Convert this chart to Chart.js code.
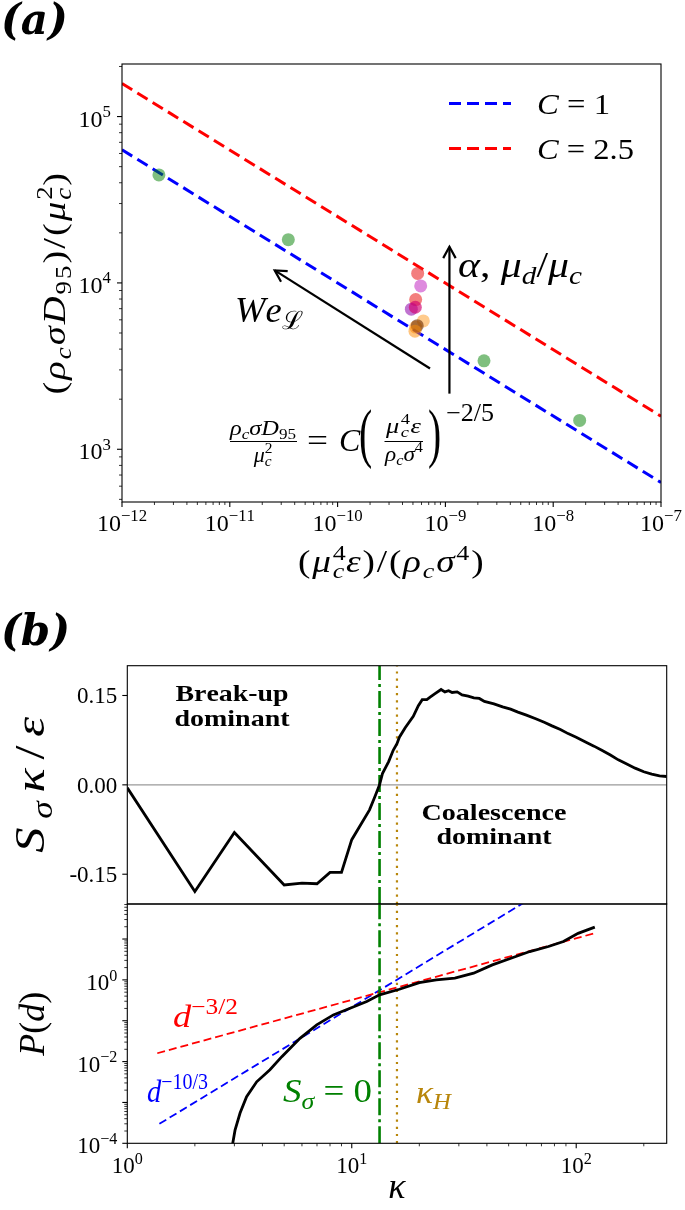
<!DOCTYPE html>
<html lang="en">
<head>
    <meta charset="UTF-8">
    <title>Drop size scaling and break-up / coalescence balance</title>
    <script src="https://cdn.jsdelivr.net/npm/chart.js"></script>
    <style>
        body { margin: 0; background: #fff; }
        #page { position: relative; width: 685px; height: 1210px; overflow: hidden; }
        .panel { position: absolute; left: 0; width: 685px; }
    </style>
</head>
<body>
<div id="page">
    <div class="panel" style="top:0;height:600px"><canvas id="chart-a"></canvas></div>
    <div class="panel" style="top:600px;height:306px"><canvas id="chart-b1"></canvas></div>
    <div class="panel" style="top:902px;height:308px"><canvas id="chart-b2"></canvas></div>
</div>

<script>
    // ---- panel (a): rescaled D95 against rescaled dissipation ----
    const aRangeX = [1e-12, 1e-7];
    const aRangeY = [482, 2.07e5];
    const fitX = [1e-12, 1e-7];
    const fitC1 = [6.31e4, 631];      // C = 1
    const fitC25 = [1.58e5, 1580];    // C = 2.5
    const greenX = [2.2e-12, 3.49e-11, 2.28e-9, 1.76e-8];
    const greenY = [4.46e4, 1.82e4, 3.4e3, 1.49e3];
    const clusterX = [5.53e-10, 5.90e-10, 5.30e-10, 4.83e-10, 5.26e-10, 6.24e-10, 5.30e-10, 5.48e-10, 5.22e-10];
    const clusterY = [1.14e4, 9.59e3, 7.94e3, 6.95e3, 7.14e3, 5.91e3, 5.43e3, 5.53e3, 5.13e3];
    const clusterColors = ['rgba(235,40,40,0.6)', 'rgba(200,60,200,0.6)', 'rgba(235,40,40,0.6)', 'rgba(140,0,170,0.55)',
        'rgba(210,0,110,0.65)', 'rgba(255,140,0,0.45)', 'rgba(255,140,0,0.5)', 'rgba(110,45,0,0.6)', 'rgba(255,140,0,0.5)'];
    const arrowWe = [[7.2e-10, 3.06e3], [2.61e-11, 1.19e4]];
    const arrowAlpha = [[1.09e-9, 2.16e3], [1.09e-9, 1.65e4]];

    // ---- panel (b): source term and drop size distribution against kappa ----
    const kRange = [1, 253];
    const sRange = [-0.2, 0.2];
    const pRange = [1e-4, 72];
    const kappaS = [1, 2, 3, 5, 6, 7, 8, 9, 10, 12, 12.7, 13.3, 13.7, 14.6, 15.3, 15.9, 16.3, 17.3, 18.8, 19.8,
        20.6, 21.6, 22.5, 23.5, 25, 26, 27, 28, 29.5, 31, 33, 35, 37, 39, 43, 47, 51, 55, 60, 66, 72, 78, 85, 92,
        100, 110, 120, 130, 142, 154, 168, 183, 200, 217, 235, 253];
    const sourceS = [-0.005, -0.179, -0.080, -0.168, -0.165, -0.166, -0.147, -0.147, -0.092, -0.042, -0.019, 0.0,
        0.019, 0.039, 0.058, 0.069, 0.080, 0.096, 0.115, 0.133, 0.143, 0.143, 0.148, 0.153, 0.160, 0.156, 0.158,
        0.155, 0.156, 0.151, 0.149, 0.146, 0.145, 0.140, 0.136, 0.131, 0.127, 0.122, 0.117, 0.111, 0.105, 0.099,
        0.093, 0.086, 0.080, 0.072, 0.065, 0.058, 0.050, 0.042, 0.035, 0.028, 0.022, 0.018, 0.015, 0.014];
    const kappaP = [2.9, 2.95, 3.02, 3.18, 3.4, 3.77, 4.32, 4.88, 5.88, 6.98, 8.28, 9.83, 11.66, 13.3, 16.3, 20,
        23.8, 28.8, 34.9, 42.3, 51.2, 62.1, 75.2, 87.7, 102, 121];
    const probP = [6e-5, 1e-4, 2.1e-4, 5.5e-4, 1.38e-3, 3.2e-3, 6.3e-3, 1.32e-2, 3.7e-2, 7.9e-2, 0.139, 0.202,
        0.295, 0.43, 0.59, 0.86, 1.0, 1.1, 1.46, 2.33, 3.39, 4.94, 6.55, 8.7, 13.8, 19.5];
    const fitRedK = [1.36, 121];      // d^-3/2
    const fitRedP = [0.016, 13.9];
    const fitBlueK = [1.39, 60];      // d^-10/3
    const fitBlueP = [3.0e-4, 84.6];
    const kappaZero = 13.3;           // S_sigma = 0
    const kappaH = 15.9;              // Hinze scale

    const pts = (xs, ys) => xs.map((x, i) => ({ x: x, y: ys[i] }));

    // ---- text helpers (sub/superscripts drawn on the canvas) ----
    const SERIF = '"Liberation Serif", "DejaVu Serif", serif';

    function segInfo(seg, size) {
        let k = seg[1] || 'n', shift = 0, s = size;
        if (k[0] === '^') { shift = -0.4 * size; s = 0.7 * size; k = k.slice(1); }
        else if (k[0] === '_') { shift = 0.2 * size; s = 0.7 * size; k = k.slice(1); }
        const st = k === 'i' ? 'italic ' : k === 'b' ? 'bold ' : '';
        return { t: seg[0], f: st + s + 'px ' + SERIF, shift: shift, stack: seg[2] === 'stack' };
    }

    // lays out segments char by char, gap = extra space after each char
    function layoutRich(ctx, segs, size, gap, cb) {
        let end = 0, prevStart = 0, chars = 0;
        for (const seg of segs) {
            const info = segInfo(seg, size);
            ctx.font = info.f;
            if (info.stack) {
                if (cb) cb(info, prevStart, info.t);
                end = Math.max(end, prevStart + ctx.measureText(info.t).width);
                continue;
            }
            prevStart = end;
            let pos = end;
            for (const c of info.t) {
                if (cb) cb(info, pos, c);
                pos += ctx.measureText(c).width + gap;
                chars++;
            }
            end = pos;
        }
        return { w: end - gap, n: chars };
    }

    function drawRich(ctx, segs, x, y, size, opt) {
        const o = Object.assign({ align: 'left', color: '#000' }, opt);
        const base = layoutRich(ctx, segs, size, 0);
        let sx = 1, gap = 0;
        if (o.fitW) {
            sx = Math.min(1.2, Math.max(0.85, o.fitW / base.w));
            gap = base.n > 1 ? (o.fitW / sx - base.w) / (base.n - 1) : 0;
        }
        const W = o.fitW || base.w;
        const x0 = o.align === 'center' ? x - W / 2 : o.align === 'right' ? x - W : x;
        ctx.save();
        ctx.translate(x0, y);
        ctx.scale(sx, 1);
        ctx.fillStyle = o.color;
        ctx.textAlign = 'left';
        ctx.textBaseline = 'alphabetic';
        layoutRich(ctx, segs, size, gap, (info, px, c) => { ctx.font = info.f; ctx.fillText(c, px, info.shift); });
        ctx.restore();
    }

    function drawRichV(ctx, segs, bx, cy, size, opt) {
        ctx.save();
        ctx.translate(bx, cy);
        ctx.rotate(-Math.PI / 2);
        drawRich(ctx, segs, 0, 0, size, Object.assign({ align: 'center' }, opt));
        ctx.restore();
    }

    const pow10 = e => [['10', 'n'], [(e < 0 ? '\u2212' : '') + Math.abs(e), '^n']];

    function frame(ctx, a) {
        ctx.strokeStyle = '#000';
        ctx.lineWidth = 1.1;
        ctx.setLineDash([]);
        ctx.strokeRect(a.left, a.top, a.right - a.left, a.bottom - a.top);
    }

    // outward ticks on a log axis, major at powers of ten
    function logTicks(ctx, scale, fixed, horizontal) {
        const lo = scale.min, hi = scale.max;
        ctx.strokeStyle = '#000';
        ctx.setLineDash([]);
        for (let e = Math.floor(Math.log10(lo)); e <= Math.ceil(Math.log10(hi)); e++) {
            for (let k = 1; k <= 9; k++) {
                const v = k * Math.pow(10, e);
                if (v < lo * 0.9999 || v > hi * 1.0001) continue;
                const p = scale.getPixelForValue(v), len = k === 1 ? 5 : 3;
                ctx.lineWidth = k === 1 ? 1.1 : 0.8;
                ctx.beginPath();
                if (horizontal) { ctx.moveTo(p, fixed); ctx.lineTo(p, fixed + len); }
                else { ctx.moveTo(fixed, p); ctx.lineTo(fixed - len, p); }
                ctx.stroke();
            }
        }
    }

    function arrow(ctx, x0, y0, x1, y1) {
        ctx.beginPath(); ctx.moveTo(x0, y0); ctx.lineTo(x1, y1); ctx.stroke();
        const ang = Math.atan2(y1 - y0, x1 - x0), L = 13, h = 0.5;
        ctx.beginPath();
        ctx.moveTo(x1 - L * Math.cos(ang - h), y1 - L * Math.sin(ang - h));
        ctx.lineTo(x1, y1);
        ctx.lineTo(x1 - L * Math.cos(ang + h), y1 - L * Math.sin(ang + h));
        ctx.stroke();
    }

    function panelLabel(ctx, text, y) {
        ctx.font = 'italic bold 42px "DejaVu Serif", serif';
        ctx.fillStyle = '#000';
        ctx.textAlign = 'left';
        ctx.textBaseline = 'alphabetic';
        ctx.fillText(text, 1, y);
    }

    const baseOptions = (padding, xScale, yScale) => ({
        responsive: true,
        maintainAspectRatio: false,
        animation: false,
        devicePixelRatio: 1,
        events: [],
        layout: { padding: padding },
        scales: { x: xScale, y: yScale },
        plugins: { legend: { display: false }, tooltip: { enabled: false } }
    });

    // ---------------- panel (a) ----------------
    const decoA = {
        id: 'decoA',
        afterDraw(chart) {
            const ctx = chart.ctx, a = chart.chartArea, xs = chart.scales.x, ys = chart.scales.y;
            ctx.save();
            frame(ctx, a);
            logTicks(ctx, xs, a.bottom, true);
            logTicks(ctx, ys, a.left, false);
            for (let e = -12; e <= -7; e++) {
                drawRich(ctx, pow10(e), xs.getPixelForValue(Math.pow(10, e)), a.bottom + 29, 24, { align: 'center' });
            }
            for (let e = 3; e <= 5; e++) {
                drawRich(ctx, pow10(e), a.left - 11, ys.getPixelForValue(Math.pow(10, e)) + 10, 24, { align: 'right' });
            }
            drawRich(ctx, [['(', 'n'], ['\u03bc', 'i'], ['c', '_i'], ['4', '^n', 'stack'], ['\u03b5', 'i'], [')/(', 'n'],
                ['\u03c1', 'i'], ['c', '_i'], ['\u03c3', 'i'], ['4', '^n'], [')', 'n']],
                (a.left + a.right) / 2, 572, 31, { align: 'center', fitW: 187 });
            drawRichV(ctx, [['(', 'n'], ['\u03c1', 'i'], ['c', '_i'], ['\u03c3', 'i'], ['D', 'i'], ['95', '_n'], [')/(', 'n'],
                ['\u03bc', 'i'], ['c', '_i'], ['2', '^n', 'stack'], [')', 'n']],
                65, (a.top + a.bottom) / 2, 32, { fitW: 223 });

            // legend
            ctx.lineWidth = 3;
            ctx.setLineDash([12, 6]);
            ctx.strokeStyle = '#0000ff';
            ctx.beginPath(); ctx.moveTo(449, 103.5); ctx.lineTo(511, 103.5); ctx.stroke();
            ctx.strokeStyle = '#ff0000';
            ctx.beginPath(); ctx.moveTo(449, 148.5); ctx.lineTo(511, 148.5); ctx.stroke();
            ctx.setLineDash([]);
            drawRich(ctx, [['C', 'i'], [' = 1', 'n']], 537, 114, 30, { fitW: 73 });
            drawRich(ctx, [['C', 'i'], [' = 2.5', 'n']], 537, 159, 30, { fitW: 97 });

            // arrows
            ctx.strokeStyle = '#000';
            ctx.lineWidth = 2.2;
            ctx.lineJoin = 'miter';
            for (const ar of [arrowWe, arrowAlpha]) {
                arrow(ctx, xs.getPixelForValue(ar[0][0]), ys.getPixelForValue(ar[0][1]),
                    xs.getPixelForValue(ar[1][0]), ys.getPixelForValue(ar[1][1]));
            }
            drawRich(ctx, [['W', 'i'], ['e', 'i'], ['\u2112', '_n']], 235, 322, 36, { fitW: 68 });
            drawRich(ctx, [['\u03b1', 'i'], [', ', 'n'], ['\u03bc', 'i'], ['d', '_i'], ['/', 'n'], ['\u03bc', 'i'], ['c', '_i']],
                458, 277, 35, { fitW: 124 });

            // scaling law
            drawRich(ctx, [['\u03c1', 'i'], ['c', '_i'], ['\u03c3', 'i'], ['D', 'i'], ['95', '_n']], 263, 435, 22, { align: 'center', fitW: 66 });
            drawRich(ctx, [['\u03bc', 'i'], ['c', '_i'], ['2', '^n', 'stack']], 263, 462, 22, { align: 'center' });
            ctx.lineWidth = 1;
            ctx.beginPath(); ctx.moveTo(230, 441.5); ctx.lineTo(297, 441.5); ctx.stroke();
            drawRich(ctx, [['=', 'n']], 307, 451, 32, { fitW: 21 });
            drawRich(ctx, [['C', 'i']], 339, 451, 32);
            ctx.save();
            ctx.fillStyle = '#000';
            ctx.font = '66px ' + SERIF;
            ctx.translate(359, 455); ctx.scale(0.6, 1); ctx.fillText('(', 0, 0);
            ctx.restore();
            drawRich(ctx, [['\u03bc', 'i'], ['c', '_i'], ['4', '^n', 'stack'], ['\u03b5', 'i']], 404, 433, 22, { align: 'center', fitW: 36 });
            drawRich(ctx, [['\u03c1', 'i'], ['c', '_i'], ['\u03c3', 'i'], ['4', '^n']], 404, 461, 22, { align: 'center', fitW: 38 });
            ctx.beginPath(); ctx.moveTo(384.5, 441.5); ctx.lineTo(423, 441.5); ctx.stroke();
            ctx.save();
            ctx.fillStyle = '#000';
            ctx.font = '66px ' + SERIF;
            ctx.translate(428, 455); ctx.scale(0.6, 1); ctx.fillText(')', 0, 0);
            ctx.restore();
            drawRich(ctx, [['\u22122/5', 'n']], 446, 421, 25, { fitW: 48 });

            panelLabel(ctx, '(a)', 34);
            ctx.restore();
        }
    };

    new Chart(document.getElementById('chart-a'), {
        type: 'scatter',
        data: {
            datasets: [
                { data: pts(clusterX, clusterY), pointBackgroundColor: clusterColors, pointBorderWidth: 0, pointRadius: 6.5, clip: 0 },
                { data: pts(greenX, greenY), pointBackgroundColor: 'rgba(0,128,0,0.5)', pointBorderWidth: 0, pointRadius: 6.5, clip: 0 },
                { data: pts(fitX, fitC1), showLine: true, borderColor: '#0000ff', borderWidth: 3, borderDash: [12, 6], pointRadius: 0, clip: 0 },
                { data: pts(fitX, fitC25), showLine: true, borderColor: '#ff0000', borderWidth: 3, borderDash: [12, 6], pointRadius: 0, clip: 0 }
            ]
        },
        options: baseOptions({ left: 122, top: 64, right: 24, bottom: 98 },
            { type: 'logarithmic', min: aRangeX[0], max: aRangeX[1], display: false },
            { type: 'logarithmic', min: aRangeY[0], max: aRangeY[1], display: false }),
        plugins: [decoA]
    });

    // ---------------- panel (b), top: source term ----------------
    const vLines = (yLo, yHi) => [
        { data: pts([kappaZero, kappaZero], [yLo, yHi]), showLine: true, borderColor: '#008000', borderWidth: 2.6,
          borderDash: [17, 4, 3, 4], pointRadius: 0, clip: 0 },
        { data: pts([kappaH, kappaH], [yLo, yHi]), showLine: true, borderColor: '#b8860b', borderWidth: 2.2,
          borderDash: [2.2, 5], pointRadius: 0, clip: 0 }
    ];

    const decoB1 = {
        id: 'decoB1',
        afterDraw(chart) {
            const ctx = chart.ctx, a = chart.chartArea, ys = chart.scales.y;
            ctx.save();
            frame(ctx, a);
            const labels = ['-0.15', '0.00', '0.15'];
            [-0.15, 0, 0.15].forEach((v, i) => {
                const p = ys.getPixelForValue(v);
                ctx.lineWidth = 1.1;
                ctx.strokeStyle = '#000';
                ctx.beginPath(); ctx.moveTo(a.left, p); ctx.lineTo(a.left - 5, p); ctx.stroke();
                drawRich(ctx, [[labels[i], 'n']], a.left - 10, p + 8, 23, { align: 'right' });
            });
            drawRichV(ctx, [['S', 'i'], ['\u03c3', '_i'], ['\u03ba', 'i'], ['/', 'n'], ['\u03b5', 'i']],
                44, (a.top + a.bottom) / 2, 42, { fitW: 136 });
            drawRich(ctx, [['Break-up', 'b']], 232, 100.5, 24, { align: 'center', fitW: 113 });
            drawRich(ctx, [['dominant', 'b']], 232, 126, 24, { align: 'center', fitW: 115 });
            drawRich(ctx, [['Coalescence', 'b']], 494, 220, 24, { align: 'center', fitW: 145 });
            drawRich(ctx, [['dominant', 'b']], 494, 244, 24, { align: 'center', fitW: 115 });
            panelLabel(ctx, '(b)', 45);
            ctx.restore();
        }
    };

    new Chart(document.getElementById('chart-b1'), {
        type: 'scatter',
        data: {
            datasets: [
                { data: pts(kappaS, sourceS), showLine: true, borderColor: '#000', borderWidth: 2.8, pointRadius: 0, clip: 0 }
            ].concat(vLines(sRange[0], sRange[1]), [
                { data: pts(kRange, [0, 0]), showLine: true, borderColor: '#9a9a9a', borderWidth: 1.2, pointRadius: 0, clip: 0 }
            ])
        },
        options: baseOptions({ left: 127.3, top: 65.7, right: 18.3, bottom: 2 },
            { type: 'logarithmic', min: kRange[0], max: kRange[1], display: false },
            { type: 'linear', min: sRange[0], max: sRange[1], display: false }),
        plugins: [decoB1]
    });

    // ---------------- panel (b), bottom: size distribution ----------------
    const decoB2 = {
        id: 'decoB2',
        afterDraw(chart) {
            const ctx = chart.ctx, a = chart.chartArea, xs = chart.scales.x, ys = chart.scales.y;
            ctx.save();
            frame(ctx, a);
            logTicks(ctx, xs, a.bottom, true);
            logTicks(ctx, ys, a.left, false);
            for (let e = 0; e <= 2; e++) {
                drawRich(ctx, pow10(e), xs.getPixelForValue(Math.pow(10, e)), a.bottom + 29.7, 23, { align: 'center' });
            }
            for (const e of [0, -2, -4]) {
                drawRich(ctx, pow10(e), a.left - 10, ys.getPixelForValue(Math.pow(10, e)) + 10, 23, { align: 'right' });
            }
            drawRich(ctx, [['\u03ba', 'i']], (a.left + a.right) / 2, 296, 36, { align: 'center' });
            drawRichV(ctx, [['P', 'i'], ['(', 'n'], ['d', 'i'], [')', 'n']], 44, (a.top + a.bottom) / 2, 36, { fitW: 64 });
            drawRich(ctx, [['d', 'i'], ['\u22123/2', '^n']], 173, 125, 32, { color: '#ff0000', fitW: 65 });
            drawRich(ctx, [['d', 'i'], ['\u221210/3', '^n']], 147, 200, 32, { color: '#0000ff', fitW: 61 });
            drawRich(ctx, [['S', 'i'], ['\u03c3', '_i'], [' = 0', 'n']], 283, 200, 33, { color: '#008000', fitW: 89 });
            drawRich(ctx, [['\u03ba', 'i'], ['H', '_i']], 416, 201, 32, { color: '#b8860b', fitW: 35 });
            ctx.restore();
        }
    };

    new Chart(document.getElementById('chart-b2'), {
        type: 'scatter',
        data: {
            datasets: [
                { data: pts(kappaP, probP), showLine: true, borderColor: '#000', borderWidth: 2.8, pointRadius: 0, clip: 0 }
            ].concat(vLines(pRange[0], pRange[1]), [
                { data: pts(fitRedK, fitRedP), showLine: true, borderColor: '#ff0000', borderWidth: 1.8, borderDash: [8, 4], pointRadius: 0, clip: 0 },
                { data: pts(fitBlueK, fitBlueP), showLine: true, borderColor: '#0000ff', borderWidth: 1.8, borderDash: [8, 4], pointRadius: 0, clip: 0 }
            ])
        },
        options: baseOptions({ left: 127.3, top: 2, right: 18.3, bottom: 66.7 },
            { type: 'logarithmic', min: kRange[0], max: kRange[1], display: false },
            { type: 'logarithmic', min: pRange[0], max: pRange[1], display: false }),
        plugins: [decoB2]
    });
</script>
</body>
</html>
